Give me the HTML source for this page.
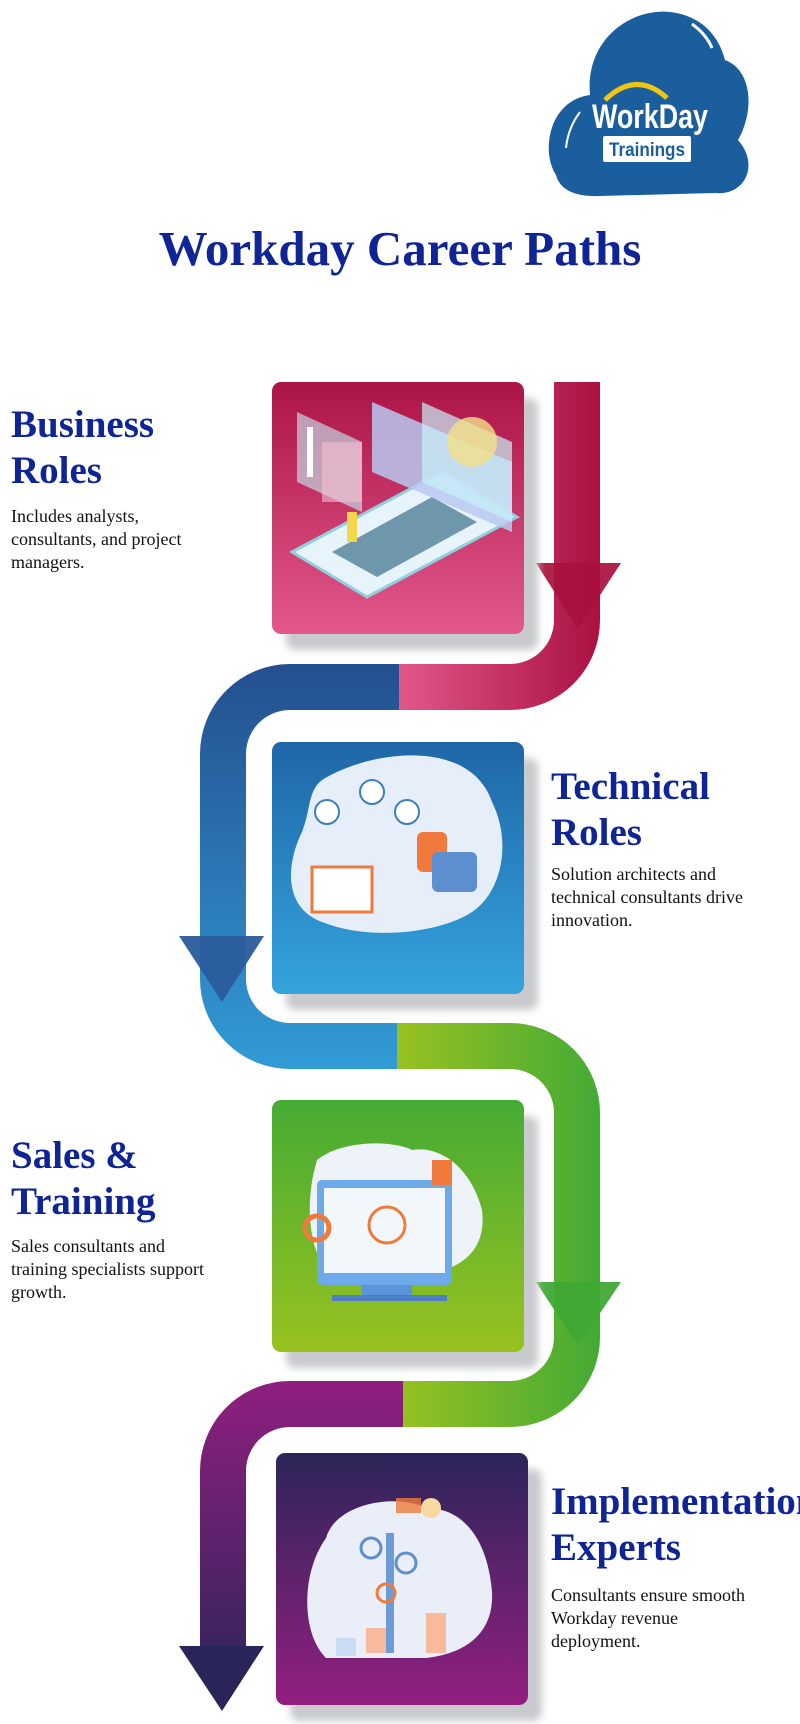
<!DOCTYPE html>
<html><head><meta charset="utf-8"><style>
html,body{margin:0;padding:0;background:#fff;}
body{width:800px;height:1724px;position:relative;overflow:hidden;font-family:"Liberation Serif",serif;}
h1{position:absolute;left:0;width:800px;top:219px;margin:0;text-align:center;font-size:49px;font-weight:bold;color:#0f2596;line-height:60px;}
.h{position:absolute;margin:0;font-size:39px;font-weight:bold;color:#0f2596;line-height:46px;white-space:nowrap;}
.p{position:absolute;margin:0;font-size:18px;color:#111;line-height:23px;}
.card{position:absolute;width:252px;height:252px;border-radius:9px;box-shadow:14px 16px 8px #c9cacd;overflow:hidden;}
</style></head><body>
<svg width="800" height="1724" style="position:absolute;left:0;top:0">
<defs>
<linearGradient id="gp" gradientUnits="userSpaceOnUse" x1="398" y1="0" x2="600" y2="0"><stop offset="0" stop-color="#e2588b"/><stop offset="1" stop-color="#aa1140"/></linearGradient>
<linearGradient id="gb" gradientUnits="userSpaceOnUse" x1="0" y1="664" x2="0" y2="1070"><stop offset="0" stop-color="#244f8f"/><stop offset="1" stop-color="#319bd6"/></linearGradient>
<linearGradient id="gg" gradientUnits="userSpaceOnUse" x1="400" y1="0" x2="600" y2="0"><stop offset="0" stop-color="#97c121"/><stop offset="1" stop-color="#44aa35"/></linearGradient>
<linearGradient id="gu" gradientUnits="userSpaceOnUse" x1="0" y1="1382" x2="0" y2="1700"><stop offset="0" stop-color="#8f1f7f"/><stop offset="1" stop-color="#2b2558"/></linearGradient>
</defs>
<g fill="none" stroke-width="46">
<path d="M577 382 V620 A67 67 0 0 1 510 687 H397" stroke="url(#gp)"/>
<path d="M399 687 H290 A67 67 0 0 0 223 754 V979 A67 67 0 0 0 290 1046 H398" stroke="url(#gb)"/>
<path d="M397 1046 H510 A67 67 0 0 1 577 1113 V1337 A67 67 0 0 1 510 1404 H401" stroke="url(#gg)"/>
<path d="M403 1404 H290 A67 67 0 0 0 223 1471 V1660" stroke="url(#gu)"/>
</g>
<polygon points="536,563 621,563 578,629" fill="#a8103e" opacity="0.92"/>
<polygon points="179,936 264,936 222,1002" fill="#2a5c9c" opacity="0.95"/>
<polygon points="536,1282 621,1282 578,1346" fill="#3fa935" opacity="0.95"/>
<polygon points="179,1646 264,1646 222,1711" fill="#2a2558"/>
<!-- logo -->
<g>
<path d="M556 175 C540 150 550 100 590 95 C585 40 630 8 670 12 C705 16 720 40 725 60 C752 70 755 110 738 140 C760 165 745 196 715 193 L600 196 C575 197 560 190 556 175 Z" fill="#1b5e9e"/>
<path d="M605 100 Q636 70 667 98" stroke="#f2c511" stroke-width="5" fill="none"/>
<path d="M566 148 Q568 128 580 112" stroke="#fff" stroke-width="2" fill="none"/>
<path d="M692 24 Q706 34 712 48" stroke="#fff" stroke-width="3" fill="none"/>
<text x="650" y="128" text-anchor="middle" font-family="Liberation Sans, sans-serif" font-weight="bold" font-size="34" fill="#fff" textLength="116" lengthAdjust="spacingAndGlyphs">WorkDay</text>
<rect x="603" y="136" width="88" height="26" rx="2" fill="#fff"/>
<text x="647" y="156" text-anchor="middle" font-family="Liberation Sans, sans-serif" font-weight="bold" font-size="19" fill="#1b5e9e" textLength="76" lengthAdjust="spacingAndGlyphs">Trainings</text>
</g>
</svg>
<h1>Workday Career Paths</h1>

<div class="card" style="left:272px;top:382px;background:linear-gradient(#ac1446,#e2588b)">
<svg width="252" height="252"><polygon points="20,170 170,90 245,135 95,215" fill="#e8f4fb" stroke="#8fd0dc" stroke-width="3"/><polygon points="60,170 160,115 205,140 105,195" fill="#3b6f8a" opacity="0.7"/><polygon points="100,20 240,80 240,150 100,90" fill="#b9c8f0" opacity="0.85"/><polygon points="150,20 240,60 240,140 150,100" fill="#c7f1f8" opacity="0.7"/><polygon points="25,30 90,60 90,130 25,100" fill="#c7f1f8" opacity="0.6"/><rect x="50" y="60" width="40" height="60" fill="#f4c0d0" opacity="0.6"/><circle cx="200" cy="60" r="25" fill="#f3e08a" opacity="0.8"/><rect x="35" y="45" width="6" height="50" fill="#fff"/><rect x="75" y="130" width="10" height="30" fill="#f3d549"/></svg>
</div>
<div class="card" style="left:272px;top:742px;background:linear-gradient(#1f66a7,#34a4dd)">
<svg width="252" height="252"><path d="M55 35 C110 5 200 0 220 60 C240 100 230 150 200 170 C170 190 100 200 50 180 C10 165 15 120 30 90 C40 65 35 45 55 35 Z" fill="#e6eff9"/><rect x="40" y="125" width="60" height="45" fill="#fff" stroke="#f07a3c" stroke-width="3"/><circle cx="55" cy="70" r="12" fill="#fff" stroke="#3d7dc0" stroke-width="2"/><circle cx="100" cy="50" r="12" fill="#fff" stroke="#3d7dc0" stroke-width="2"/><circle cx="135" cy="70" r="12" fill="#fff" stroke="#3d7dc0" stroke-width="2"/><rect x="145" y="90" width="30" height="40" rx="6" fill="#f07a3c"/><rect x="160" y="110" width="45" height="40" rx="6" fill="#5d8fd0"/></svg>
</div>
<div class="card" style="left:272px;top:1100px;background:linear-gradient(#45ab34,#98c220)">
<svg width="252" height="252"><path d="M45 60 C70 40 120 40 140 50 C170 45 200 70 210 110 C215 150 190 170 150 175 L60 175 C40 160 30 110 45 60 Z" fill="#eef3fa"/><rect x="45" y="80" width="135" height="105" rx="5" fill="#6eaaea"/><rect x="52" y="88" width="121" height="85" fill="#f2f7fc"/><rect x="90" y="185" width="50" height="10" fill="#5b94d8"/><rect x="60" y="195" width="115" height="6" fill="#4a7fc7"/><circle cx="115" cy="125" r="18" fill="none" stroke="#f07a3c" stroke-width="3"/><circle cx="45" cy="128" r="12" fill="none" stroke="#f07a3c" stroke-width="5"/><rect x="160" y="60" width="20" height="25" fill="#f07a3c"/></svg>
</div>
<div class="card" style="left:276px;top:1453px;background:linear-gradient(#2c2558,#931f80)">
<svg width="252" height="252"><path d="M50 85 C60 50 120 40 150 55 C190 55 210 90 215 130 C222 175 195 200 150 205 L50 205 C25 180 25 120 50 85 Z" fill="#e9eef8"/><rect x="110" y="80" width="8" height="120" fill="#6d9bd6"/><circle cx="95" cy="95" r="10" fill="none" stroke="#5d8fd0" stroke-width="3"/><circle cx="130" cy="110" r="10" fill="none" stroke="#5d8fd0" stroke-width="3"/><circle cx="110" cy="140" r="9" fill="none" stroke="#f07a3c" stroke-width="3"/><rect x="150" y="160" width="20" height="40" fill="#f8b99c"/><rect x="90" y="175" width="20" height="25" fill="#f8b99c"/><rect x="60" y="185" width="20" height="18" fill="#c9dcf2"/><circle cx="155" cy="55" r="10" fill="#f8d9a0"/><rect x="120" y="45" width="25" height="15" fill="#f07a3c" opacity="0.8"/></svg>
</div>

<div class="h" style="left:11px;top:402px">Business<br>Roles</div>
<div class="p" style="left:11px;top:505px;width:230px">Includes analysts,<br>consultants, and project<br>managers.</div>

<div class="h" style="left:551px;top:764px">Technical<br>Roles</div>
<div class="p" style="left:551px;top:863px">Solution architects and<br>technical consultants drive<br>innovation.</div>

<div class="h" style="left:11px;top:1133px">Sales &amp;<br>Training</div>
<div class="p" style="left:11px;top:1235px">Sales consultants and<br>training specialists support<br>growth.</div>

<div class="h" style="left:551px;top:1479px">Implementation<br>Experts</div>
<div class="p" style="left:551px;top:1584px">Consultants ensure smooth<br>Workday revenue<br>deployment.</div>
</body></html>
